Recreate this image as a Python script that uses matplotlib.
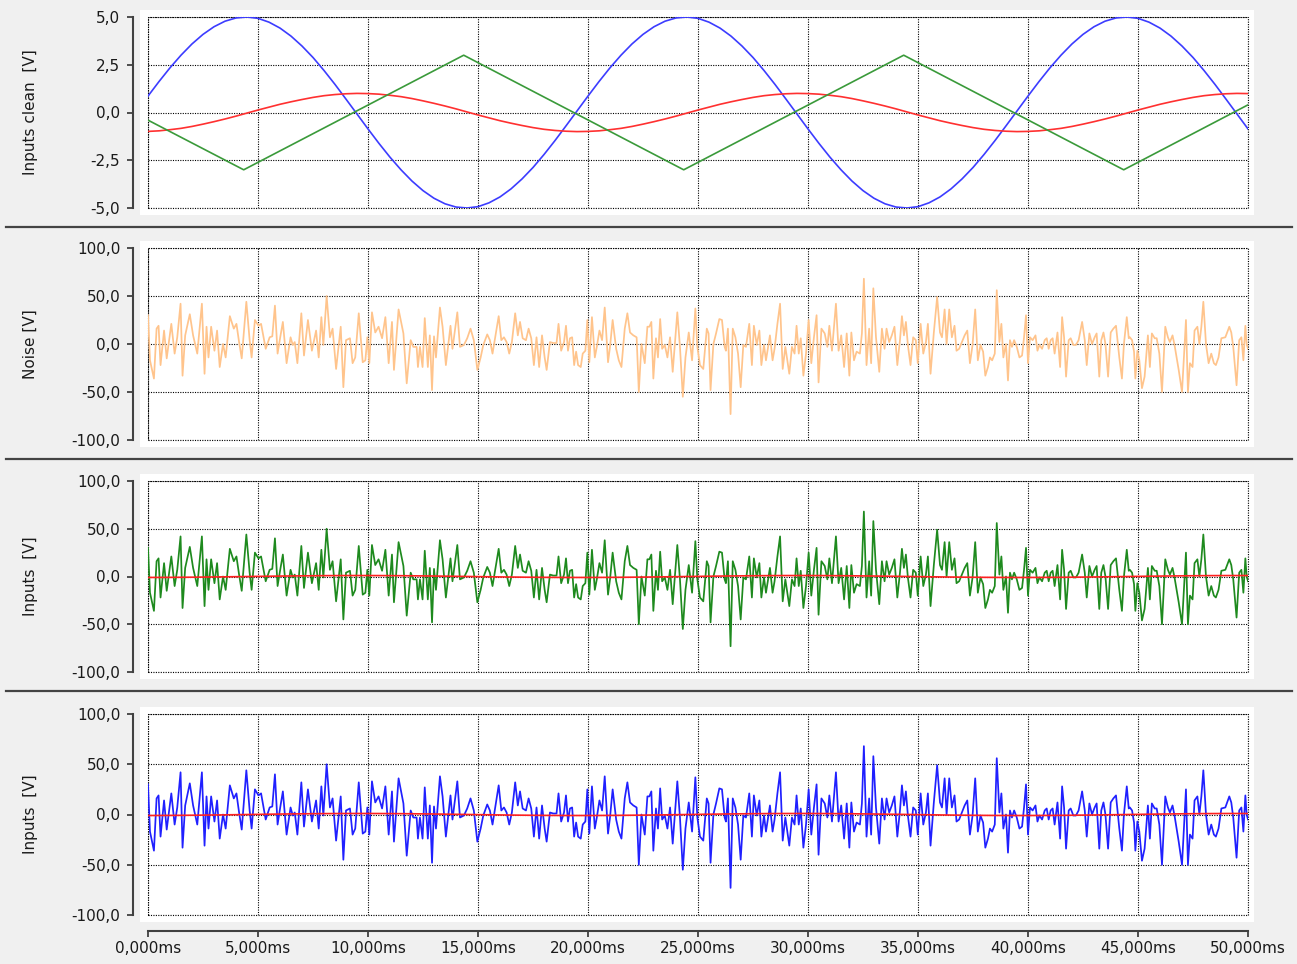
import matplotlib
matplotlib.use('Agg')
import matplotlib.pyplot as plt
from matplotlib.patches import Rectangle
from matplotlib.lines import Line2D
from matplotlib.ticker import FuncFormatter
import numpy as np

# ---------------- data ----------------
clean_t = [i * 0.5 for i in range(101)]  # seconds
blue_clean = [
    0.86, 1.62, 2.34, 3.00, 3.59, 4.09, 4.49, 4.78, 4.95, 5.00, 4.93, 4.73, 4.42, 4.00, 3.48, 2.88, 2.20, 1.47, 0.70, -0.08,
    -0.86, -1.62, -2.34, -3.00, -3.59, -4.09, -4.49, -4.78, -4.95, -5.00, -4.93, -4.73, -4.42, -4.00, -3.48, -2.88, -2.20, -1.47, -0.70, 0.08,
    0.86, 1.62, 2.34, 3.00, 3.59, 4.09, 4.49, 4.78, 4.95, 5.00, 4.93, 4.73, 4.42, 4.00, 3.48, 2.88, 2.20, 1.47, 0.70, -0.08,
    -0.86, -1.62, -2.34, -3.00, -3.59, -4.09, -4.49, -4.78, -4.95, -5.00, -4.93, -4.73, -4.42, -4.00, -3.48, -2.88, -2.20, -1.47, -0.70, 0.08,
    0.86, 1.62, 2.34, 3.00, 3.59, 4.09, 4.49, 4.78, 4.95, 5.00, 4.93, 4.73, 4.42, 4.00, 3.48, 2.88, 2.20, 1.47, 0.70, -0.08,
    -0.86]
red_clean = [
    -0.99, -0.96, -0.90, -0.83, -0.73, -0.61, -0.48, -0.34, -0.19, -0.03, 0.13, 0.28, 0.43, 0.56, 0.68, 0.79, 0.88, 0.94, 0.98, 1.00,
    0.99, 0.96, 0.90, 0.83, 0.73, 0.61, 0.48, 0.34, 0.19, 0.03, -0.13, -0.28, -0.43, -0.56, -0.68, -0.79, -0.88, -0.94, -0.98, -1.00,
    -0.99, -0.96, -0.90, -0.83, -0.73, -0.61, -0.48, -0.34, -0.19, -0.03, 0.13, 0.28, 0.43, 0.56, 0.68, 0.79, 0.88, 0.94, 0.98, 1.00,
    0.99, 0.96, 0.90, 0.83, 0.73, 0.61, 0.48, 0.34, 0.19, 0.03, -0.13, -0.28, -0.43, -0.56, -0.68, -0.79, -0.88, -0.94, -0.98, -1.00,
    -0.99, -0.96, -0.90, -0.83, -0.73, -0.61, -0.48, -0.34, -0.19, -0.03, 0.13, 0.28, 0.43, 0.56, 0.68, 0.79, 0.88, 0.94, 0.98, 1.00,
    0.99]
green_t = [0.0, 4.35, 14.35, 24.35, 34.35, 44.35, 50.0]
green_clean = [-0.4, -3.0, 3.0, -3.0, 3.0, -3.0, 0.4]

noise_t = [
    0.00, 0.09, 0.27, 0.39, 0.48, 0.57, 0.73, 0.85, 1.06, 1.21, 1.33, 1.48, 1.57, 1.69, 1.90,
    2.05, 2.24, 2.45, 2.57, 2.66, 2.75, 2.87, 3.02, 3.14, 3.26, 3.41, 3.53, 3.72, 3.90, 4.02,
    4.14, 4.26, 4.47, 4.62, 4.71, 4.86, 5.02, 5.14, 5.35, 5.53, 5.65, 5.77, 5.89, 6.01, 6.13,
    6.30, 6.48, 6.58, 6.67, 6.79, 6.97, 7.09, 7.27, 7.45, 7.64, 7.76, 7.88, 7.97, 8.12, 8.27,
    8.39, 8.55, 8.76, 8.88, 9.00, 9.18, 9.30, 9.42, 9.58, 9.76, 9.88, 9.97, 10.06, 10.18, 10.33,
    10.48, 10.64, 10.79, 10.94, 11.09, 11.18, 11.39, 11.61, 11.76, 11.94, 12.06, 12.21, 12.27, 12.36, 12.48,
    12.58, 12.72, 12.81, 12.91, 13.00, 13.09, 13.27, 13.39, 13.54, 13.75, 13.84, 14.06, 14.18, 14.36, 14.51,
    14.66, 14.81, 14.97, 15.12, 15.24, 15.42, 15.54, 15.66, 15.78, 15.94, 16.06, 16.18, 16.30, 16.42, 16.54,
    16.69, 16.81, 16.91, 17.03, 17.18, 17.30, 17.42, 17.54, 17.66, 17.78, 17.91, 18.03, 18.12, 18.27, 18.42,
    18.57, 18.66, 18.78, 18.91, 19.00, 19.09, 19.18, 19.28, 19.37, 19.46, 19.55, 19.67, 19.76, 19.88, 19.97,
    20.06, 20.18, 20.31, 20.40, 20.52, 20.64, 20.76, 20.91, 21.00, 21.12, 21.28, 21.40, 21.52, 21.67, 21.79,
    21.91, 22.06, 22.21, 22.31, 22.43, 22.58, 22.70, 22.79, 22.88, 22.97, 23.09, 23.18, 23.28, 23.37, 23.49,
    23.61, 23.73, 23.85, 23.97, 24.06, 24.18, 24.31, 24.43, 24.58, 24.73, 24.88, 24.97, 25.09, 25.24, 25.40,
    25.48, 25.57, 25.70, 25.82, 25.97, 26.09, 26.21, 26.27, 26.36, 26.48, 26.58, 26.70, 26.82, 26.94, 27.06,
    27.18, 27.33, 27.45, 27.54, 27.67, 27.79, 27.88, 28.00, 28.09, 28.27, 28.39, 28.48, 28.61, 28.73, 28.85,
    28.97, 29.15, 29.27, 29.39, 29.48, 29.58, 29.67, 29.79, 29.91, 30.03, 30.15, 30.27, 30.39, 30.48, 30.61,
    30.76, 30.88, 30.97, 31.09, 31.27, 31.39, 31.51, 31.64, 31.76, 31.88, 31.97, 32.09, 32.21, 32.36, 32.45,
    32.54, 32.66, 32.78, 32.87, 32.97, 33.09, 33.24, 33.36, 33.48, 33.57, 33.69, 33.81, 33.93, 34.06, 34.18,
    34.27, 34.36, 34.45, 34.54, 34.66, 34.78, 34.90, 34.99, 35.12, 35.24, 35.36, 35.45, 35.57, 35.72, 35.87,
    36.00, 36.09, 36.21, 36.30, 36.42, 36.54, 36.66, 36.75, 36.87, 36.96, 37.12, 37.24, 37.36, 37.48, 37.60,
    37.72, 37.84, 37.96, 38.06, 38.18, 38.27, 38.37, 38.49, 38.58, 38.70, 38.79, 38.88, 39.00, 39.09, 39.18,
    39.27, 39.37, 39.49, 39.61, 39.73, 39.82, 39.91, 40.00, 40.09, 40.21, 40.34, 40.43, 40.52, 40.64, 40.76,
    40.85, 40.94, 41.03, 41.12, 41.21, 41.34, 41.46, 41.55, 41.64, 41.73, 41.85, 41.94, 42.06, 42.18, 42.30,
    42.46, 42.58, 42.67, 42.79, 42.91, 43.03, 43.12, 43.24, 43.33, 43.43, 43.52, 43.64, 43.76, 43.88, 44.00,
    44.15, 44.27, 44.36, 44.49, 44.58, 44.63, 44.73, 44.82, 44.88, 44.97, 45.06, 45.18, 45.30, 45.45, 45.54,
    45.63, 45.76, 45.85, 45.97, 46.09, 46.24, 46.36, 46.45, 46.57, 46.66, 46.85, 47.00, 47.18, 47.27, 47.36,
    47.48, 47.57, 47.70, 47.79, 47.88, 47.97, 48.09, 48.21, 48.33, 48.45, 48.54, 48.66, 48.79, 48.97, 49.15,
    49.24, 49.33, 49.48, 49.60, 49.70, 49.79, 49.88, 49.94, 50.00]
noise_v = [
    30, -17, -36, 16, 19, -22, 14, -15, 21, -10, 7, 42, -33, 9, 31,
    9, -10, 42, -31, 18, -14, 18, -7, 14, -24, 0, -14, 29, 16, 21,
    2, -15, 44, 4, -14, 25, 19, 21, -5, 7, 8, 40, -10, 7, 23,
    -20, 7, -1, 2, -20, 32, -12, 25, -7, 14, -14, 28, -1, 50, 7,
    16, -26, 18, -45, 4, 6, -20, -14, 32, -19, -17, 7, -20, 33, 12,
    18, 6, 28, -20, 23, -27, 36, 11, -41, 4, -3, -3, -24, -3, -24,
    27, -24, 9, -48, 8, -14, 38, 18, -22, 19, -5, 33, -3, -1, 6,
    16, 4, -27, -14, -1, 10, 4, -10, 7, 29, 4, 7, 2, -10, 2,
    32, 9, 23, 6, 4, 16, 6, -22, 7, -24, 9, -14, -27, 2, 1,
    1, 21, -7, 2, 19, -7, 6, 7, -22, -8, -22, -24, -10, -7, 25,
    -19, 28, -14, -3, 14, 4, 38, -19, -3, 25, -5, -17, -24, 16, 32,
    12, 9, 7, -50, 0, -20, 18, 18, 23, -36, 6, -14, 26, -5, -1,
    -14, 7, -29, 7, 33, -3, -55, -14, 12, -17, 37, -3, -22, -26, 16,
    11, -48, 0, 11, 26, 25, -3, -7, 16, -73, 16, 7, -10, -45, -1,
    -3, 21, -22, 19, -1, 14, -22, -1, -17, 9, -17, -5, 21, 42, -26,
    -3, -31, -3, -10, 19, -10, 6, -33, -10, 25, -20, 7, 30, -40, 16,
    11, -3, 19, -7, 42, -7, 9, -24, 11, -33, 12, -17, -8, -10, 11,
    68, -22, 16, -20, 58, 7, -29, 16, -5, 16, 2, 9, 18, -22, 4,
    29, 9, 23, -1, -22, 7, 4, -20, 21, -10, 2, 21, -31, 12, 49,
    12, 7, 36, 0, 36, 7, 19, -7, -5, 0, 9, 14, -20, -1, 36,
    -17, -1, -8, -33, -24, -14, -17, -10, 56, 2, 21, -14, 0, -38, 4,
    -3, 4, -3, -14, -12, 7, 30, -20, 7, 4, 9, -7, -1, -5, 4,
    6, -5, 4, 6, -10, 12, -24, 28, 7, -34, 4, 6, -1, -1, 4,
    23, 4, -22, 11, 0, 7, 11, -34, 4, 12, 0, -34, 12, 16, 19,
    -14, -36, 0, 28, 6, 7, 4, -8, -36, -7, -17, -46, -34, 9, -24,
    11, 6, 6, -10, -50, 18, 7, 2, 9, -1, -27, -50, 25, -50, -20,
    -24, 14, 18, 0, 18, 44, 0, -20, -10, -20, -22, -14, 6, 7, 18,
    12, -3, -43, 4, 7, -17, 19, 0, -5]

x_ticks = [0, 5, 10, 15, 20, 25, 30, 35, 40, 45, 50]
x_tick_labels = [f"{v},000ms" for v in x_ticks]
y_labels = ["Inputs clean  [V]", "Noise [V]", "Inputs  [V]", "Inputs  [V]"]
y_ticks = [[5.0, 2.5, 0.0, -2.5, -5.0],
           [100.0, 50.0, 0.0, -50.0, -100.0],
           [100.0, 50.0, 0.0, -50.0, -100.0],
           [100.0, 50.0, 0.0, -50.0, -100.0]]

# ---------------- layout ----------------
W, H = 1297, 964
fig = plt.figure(figsize=(W / 100, H / 100), dpi=100, facecolor='#f0f0f0')

def fx(px):
    return px / W

def fy(py):
    return 1 - py / H

panels = [(17, 208), (248, 440), (481, 672), (714, 915)]
separators = [227, 459, 691]
dot = (0, (1, 1.2))

axes = []
for i, (top, bot) in enumerate(panels):
    fig.patches.append(Rectangle((fx(140), fy(bot + 7)), fx(1254) - fx(140), (bot - top + 14) / H,
                                 transform=fig.transFigure, fc='white', ec='none', zorder=-1))
    ax = fig.add_axes([fx(148), fy(bot), fx(1248) - fx(148), (bot - top) / H])
    ax.set_facecolor('white')
    ax.set_xlim(0, 50)
    yt = y_ticks[i]
    ax.set_ylim(min(yt), max(yt))
    ax.set_yticks(yt)
    ax.set_xticks(x_ticks)
    ax.yaxis.set_major_formatter(FuncFormatter(lambda v, p: f"{v:.1f}".replace('.', ',')))
    ax.grid(True, color='black', lw=0.8, ls=dot)
    ax.set_axisbelow(True)
    ax.add_patch(Rectangle((0, 0), 1, 1, transform=ax.transAxes, fill=False, ec='black',
                           lw=0.8, ls=dot, clip_on=False, zorder=0.5))
    for s in ['top', 'right', 'bottom']:
        ax.spines[s].set_visible(False)
    ax.spines['left'].set_position(('outward', 11))
    ax.spines['left'].set_color('#404040')
    ax.spines['left'].set_linewidth(1.5)
    ax.tick_params(axis='y', direction='out', length=4, width=1.3, color='#404040',
                   labelcolor='#1a1a1a', labelsize=11, pad=5)
    if i < 3:
        ax.tick_params(axis='x', length=0, labelbottom=False)
    else:
        ax.spines['bottom'].set_visible(True)
        ax.spines['bottom'].set_position(('outward', 11.5))
        ax.spines['bottom'].set_color('#404040')
        ax.spines['bottom'].set_linewidth(1.5)
        ax.set_xticklabels(x_tick_labels)
        ax.tick_params(axis='x', direction='out', length=4, width=1.3, color='#404040',
                       labelcolor='#1a1a1a', labelsize=11, pad=3)
    fig.text(fx(30), fy((top + bot) / 2), y_labels[i], rotation=90, ha='center', va='center',
             fontsize=11, color='#1a1a1a')
    axes.append(ax)

for sy in separators:
    fig.lines.append(Line2D([fx(6), fx(1292)], [fy(sy), fy(sy)], transform=fig.transFigure,
                            color='#444444', lw=1.6, zorder=-1))

# ---------------- series ----------------
a1, a2, a3, a4 = axes
a1.plot(clean_t, blue_clean, color='#3c3cff', lw=1.2)
a1.plot(clean_t, red_clean, color='#ff3030', lw=1.2)
a1.plot(green_t, green_clean, color='#3a9a3a', lw=1.2)

a2.plot(noise_t, noise_v, color='#ffc48c', lw=1.25)

a3.plot(noise_t, noise_v, color='#1e8a1e', lw=1.25)
a3.plot(clean_t, red_clean, color='#ff2020', lw=1.2)

a4.plot(noise_t, noise_v, color='#2020ff', lw=1.25)
a4.plot(clean_t, red_clean, color='#ff2020', lw=1.2)

fig.savefig('out.png', dpi=100, facecolor=fig.get_facecolor())
